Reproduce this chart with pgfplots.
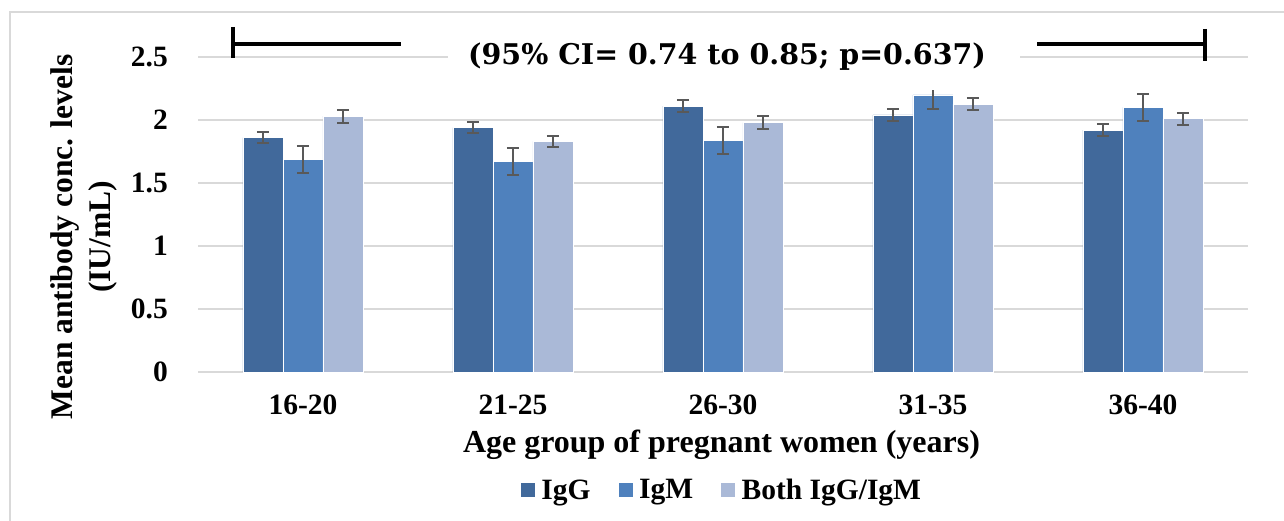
\documentclass[border=0pt]{standalone}
\usepackage{pgfplots}
\pgfplotsset{compat=1.18}
\usepackage{fontspec}
\setmainfont{Liberation Serif}
\newfontfamily\titlefont{DejaVu Serif}
\definecolor{cIgG}{HTML}{41699B}
\definecolor{cIgM}{HTML}{4F81BD}
\definecolor{cBoth}{HTML}{AAB9D7}
\definecolor{gridc}{HTML}{D9D9D9}
\definecolor{errc}{HTML}{595959}
\begin{document}
\begin{tikzpicture}
\begin{axis}[
  name=ax, anchor=south west, at={(0pt,0pt)},
  scale only axis,
  width=1050pt, height=315pt,
  ymin=0, ymax=2.5, xmin=-0.5, xmax=4.5,
  ytick={0,0.5,1,1.5,2,2.5},
  xtick={0,1,2,3,4},
  xticklabels={16-20,21-25,26-30,31-35,36-40},
  ymajorgrids, major grid style={gridc, line width=1.5pt},
  axis line style={draw=none},
  major tick length=0pt,
  /pgf/number format/assume math mode=true,
  ticklabel style={font=\bfseries\fontsize{29.5}{31}\selectfont, inner sep=0pt},
  yticklabel style={anchor=east, xshift=-30pt},
  xticklabel style={anchor=north, yshift=-23pt},
  ybar=0pt, bar width=40pt,
  clip=false,
  legend style={at={(0.4986,-0.3746)}, anchor=center, draw=none, fill=none,
    legend columns=3, font=\bfseries\fontsize{29.5}{31}\selectfont,
    /tikz/every even column/.append style={column sep=25pt}},
  legend image code/.code={\fill[#1] (0pt,-7.5pt) rectangle (15pt,7.5pt); \path (19pt,0pt);},
  error bars/error bar style={errc, line width=2pt},
  error bars/error mark options={rotate=90, mark size=6pt, line width=2pt, errc},
]
\addplot[fill=cIgG, draw=white, line width=0.5pt,
  error bars/.cd, y dir=both, y explicit]
  coordinates {(0,1.86) +- (0,0.045) (1,1.94) +- (0,0.045) (2,2.11) +- (0,0.045) (3,2.04) +- (0,0.045) (4,1.92) +- (0,0.045)};
\addplot[fill=cIgM, draw=white, line width=0.5pt,
  error bars/.cd, y dir=both, y explicit]
  coordinates {(0,1.69) +- (0,0.107) (1,1.67) +- (0,0.11) (2,1.84) +- (0,0.108) (3,2.20) +- (0,0.11) (4,2.10) +- (0,0.107)};
\addplot[fill=cBoth, draw=white, line width=0.5pt,
  error bars/.cd, y dir=both, y explicit]
  coordinates {(0,2.03) +- (0,0.05) (1,1.83) +- (0,0.045) (2,1.98) +- (0,0.048) (3,2.125) +- (0,0.047) (4,2.01) +- (0,0.047)};
\legend{IgG,IgM,Both IgG/IgM}
\end{axis}
\begin{scope}[x=1pt,y=1pt,shift={(-198pt,-149pt)}]
\path[use as bounding box] (0,0) rectangle (1284,521);
\draw[gridc, line width=1.5pt] (10,-5) -- (10,509) -- (1290,509);
\fill[white] (448,431) rectangle (1020,499);
\node[font=\titlefont\bfseries\fontsize{28.5}{30}\selectfont] at (727,464) {(95\% CI= 0.74 to 0.85; p=0.637)};
\draw[black, line width=3.5pt] (233,477) -- (401,477);
\draw[black, line width=3.5pt] (233,494) -- (233,463);
\draw[black, line width=3.5pt] (1037,477) -- (1205,477);
\draw[black, line width=3.5pt] (1205,492) -- (1205,460);
\node[rotate=90, align=center, font=\bfseries\fontsize{31.5}{38}\selectfont] at (84,284) {Mean antibody conc. levels\\(IU/mL)};
\node[anchor=base, font=\bfseries\fontsize{32}{34}\selectfont] at (721.5,68) {Age group of pregnant women (years)};
\end{scope}
\end{tikzpicture}
\end{document}
